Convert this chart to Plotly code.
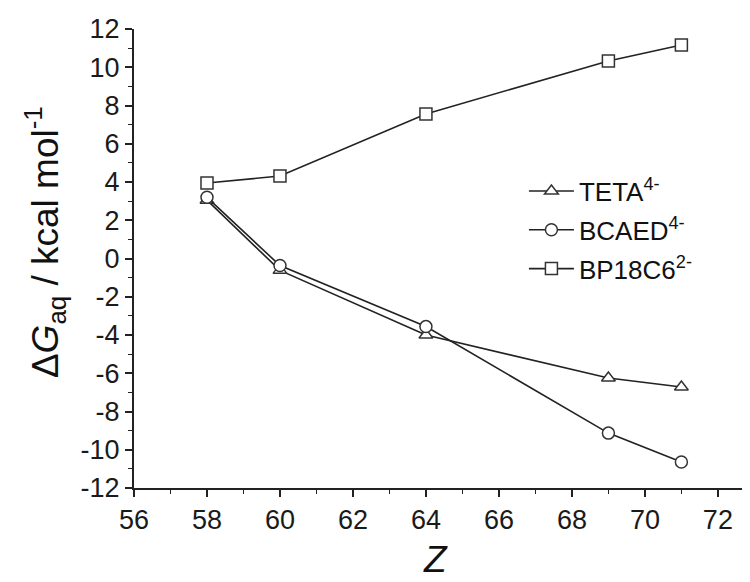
import plotly.graph_objects as go

Z = [58, 60, 64, 69, 71]
teta = [3.05, -0.62, -4.0, -6.25, -6.72]
bcaed = [3.2, -0.37, -3.56, -9.13, -10.64]
bp18c6 = [3.95, 4.31, 7.56, 10.33, 11.16]

names = ["TETA<sup>4-</sup>", "BCAED<sup>4-</sup>", "BP18C6<sup>2-</sup>"]
series = [teta, bcaed, bp18c6]
symbols = ["triangle-up", "circle", "square"]

x_ticks = [56, 58, 60, 62, 64, 66, 68, 70, 72]
y_ticks = [-12, -10, -8, -6, -4, -2, 0, 2, 4, 6, 8, 10, 12]
y_ticktext = ["-12", "-10", "-8", "-6", "-4", "-2", "0", "2", "4", "6", "8", "10", "12"]

fig = go.Figure()
for i, (nm, ys, sym) in enumerate(zip(names, series, symbols)):
    fig.add_trace(go.Scatter(
        x=Z, y=ys, name=nm, mode="lines+markers",
        legendgroup=f"g{i}",
        line=dict(color="#222222", width=1.6),
        marker=dict(symbol=sym, size=12,
                    color="white", line=dict(color="#333333", width=1.5)),
    ))

FONT = "Arial, Liberation Sans, sans-serif"
axis_common = dict(
    showline=True, linecolor="#222222", linewidth=2,
    ticks="outside", ticklen=7, tickwidth=1.6, tickcolor="#222222",
    minor=dict(ticks="outside", ticklen=4, tickwidth=1.4,
               dtick=1, tickcolor="#222222"),
    showgrid=False, zeroline=False, automargin=False,
    tickfont=dict(size=27, family=FONT, color="#1a1a1a"),
)
fig.update_layout(
    width=750, height=582,
    margin=dict(l=126, r=8, t=21, b=102),
    paper_bgcolor="white", plot_bgcolor="white",
    font=dict(family=FONT, color="#111111", size=24),
    showlegend=True,
    legend=dict(x=0.633, y=0.698, xanchor="left", yanchor="top",
                font=dict(size=26, family=FONT, color="#111111"),
                bgcolor="rgba(0,0,0,0)", tracegroupgap=2,
                itemwidth=45),
    xaxis=dict(range=[56, 72.88], tickmode="array", tickvals=x_ticks,
               ticktext=[str(v) for v in x_ticks], **axis_common),
    yaxis=dict(range=[-12, 12], tickmode="array", tickvals=y_ticks,
               ticktext=y_ticktext, **axis_common),
)

fig.add_annotation(text="<i>Z</i>", xref="paper", yref="paper",
                   x=0.49, y=-0.155, xanchor="center", yanchor="middle",
                   showarrow=False, font=dict(size=37, family=FONT))
fig.add_annotation(text="Δ<i>G</i><sub>aq</sub> / kcal mol<sup>-1</sup>",
                   xref="paper", yref="paper", x=-0.145, y=0.535,
                   xanchor="center", yanchor="middle", textangle=-90,
                   showarrow=False, font=dict(size=37, family=FONT))

fig.write_html("out.html")
